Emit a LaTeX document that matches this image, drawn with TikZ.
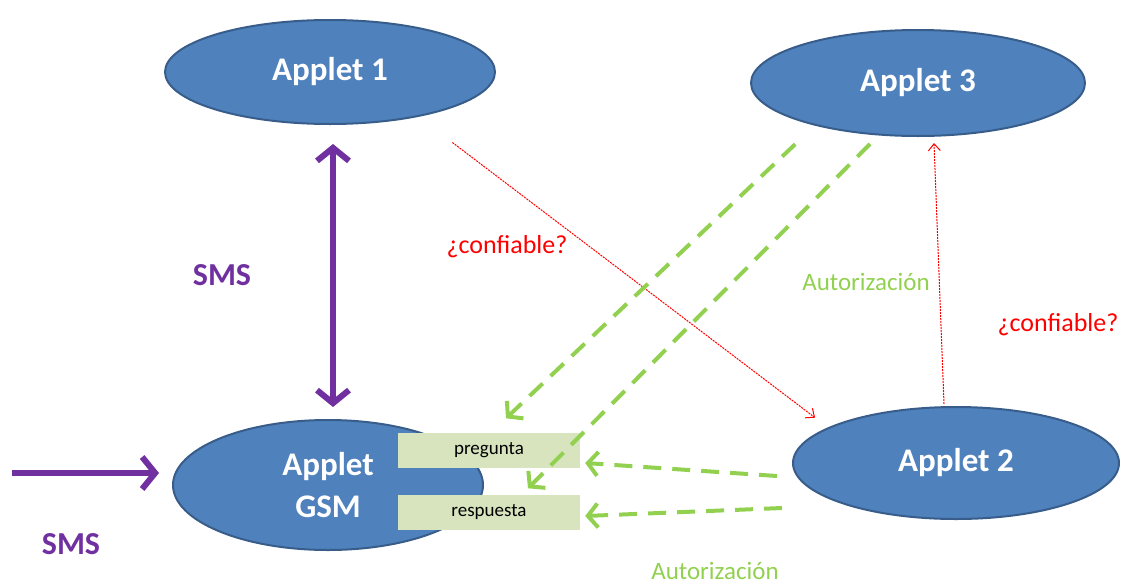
\documentclass[tikz,border=0pt]{standalone}
\usepackage{fontspec}
\setmainfont{Carlito}
\usepackage{xcolor}
\usetikzlibrary{shapes.geometric,arrows.meta,calc}
\definecolor{appblue}{HTML}{4F81BD}
\definecolor{appedge}{HTML}{385D8A}
\definecolor{smspurple}{HTML}{7030A0}
\definecolor{okgreen}{HTML}{92D050}
\definecolor{boxgreen}{HTML}{D7E4BD}
\definecolor{askred}{HTML}{FF0000}

\begin{document}
\begin{tikzpicture}[
  x=1pt, y=-1pt,
  applet/.style={ellipse,draw=appedge,fill=appblue,line width=2pt,text=white,align=center,font=\fontsize{33}{40}\selectfont\bfseries},
  msgbox/.style={rectangle,fill=boxgreen,minimum width=182pt,minimum height=35pt,inner sep=0pt,font=\fontsize{19}{22}\selectfont},
  smslabel/.style={text=smspurple,font=\fontsize{32}{36}\selectfont\bfseries},
  asklabel/.style={text=askred,font=\fontsize{26}{30}\selectfont},
  oklabel/.style={text=okgreen,font=\fontsize{25}{30}\selectfont},
  smsarrow/.style={draw=smspurple,line width=6pt,-{Straight Barb[length=13pt,width=32pt]}},
  okarrow/.style={draw=okgreen,line width=4pt,dash pattern=on 18pt off 11pt,-{Straight Barb[length=10pt,width=24pt]}},
  askarrow/.style={draw=askred,line width=1pt,dash pattern=on 2pt off 1pt,-{Straight Barb[length=7pt,width=12pt]}}
]
  \useasboundingbox (0,0) rectangle (1122,584);

  \node[applet,minimum width=330pt,minimum height=104pt] (app1) at (330,72) {Applet 1};
  \node[applet,minimum width=334pt,minimum height=106pt] (app3) at (918,83) {Applet 3};
  \node[applet,minimum width=310pt,minimum height=130pt] (gsm) at (328,485) {Applet\\[2pt]GSM};
  \node[applet,minimum width=326pt,minimum height=112pt] (app2) at (956,463) {Applet 2};

  \node[msgbox] (preg) at (489,450) {pregunta};
  \node[msgbox] (resp) at (489,512) {respuesta};

  \coordinate (smsin) at (12,473);

  \node[smslabel] (sms1) at (222,275) {SMS};
  \node[smslabel] (sms2) at (71,544) {SMS};
  \node[asklabel] (ask1) at (507,247) {¿confiable?};
  \node[asklabel] (ask2) at (1058,325) {¿confiable?};
  \node[oklabel] (ok1) at (866,282) {Autorización};
  \node[oklabel] (ok2) at (715,571) {Autorización};

  \draw[smsarrow,{Straight Barb[length=13pt,width=32pt]}-{Straight Barb[length=13pt,width=32pt]}]
    ($(app1.south)+(3,19)$) -- ($(gsm.north)+(5,-12)$);
  \draw[smsarrow] (smsin) -- ($(gsm.west)+(-13,-12)$);

  \draw[askarrow] ($(app1.south east)+(5,33)$) -- ($(app2.north west)+(-25,-5)$);
  \draw[askarrow] ($(app2.north)+(-12,-2)$) -- ($(app3.south)+(16,6)$);

  \draw[okarrow] ($(app3.south west)+(-4,23)$) -- ($(preg.north)+(17,-14)$);
  \draw[okarrow] ($(app3.south)+(-48,7)$) -- ($(resp.north)+(39,-6)$);
  \draw[okarrow] ($(app2.west)+(-15,13)$) -- ($(preg.east)+(5,13)$);
  \draw[okarrow] ($(app2.west)+(-10,45)$) -- ($(resp.east)+(5,4)$);
\end{tikzpicture}
\end{document}
